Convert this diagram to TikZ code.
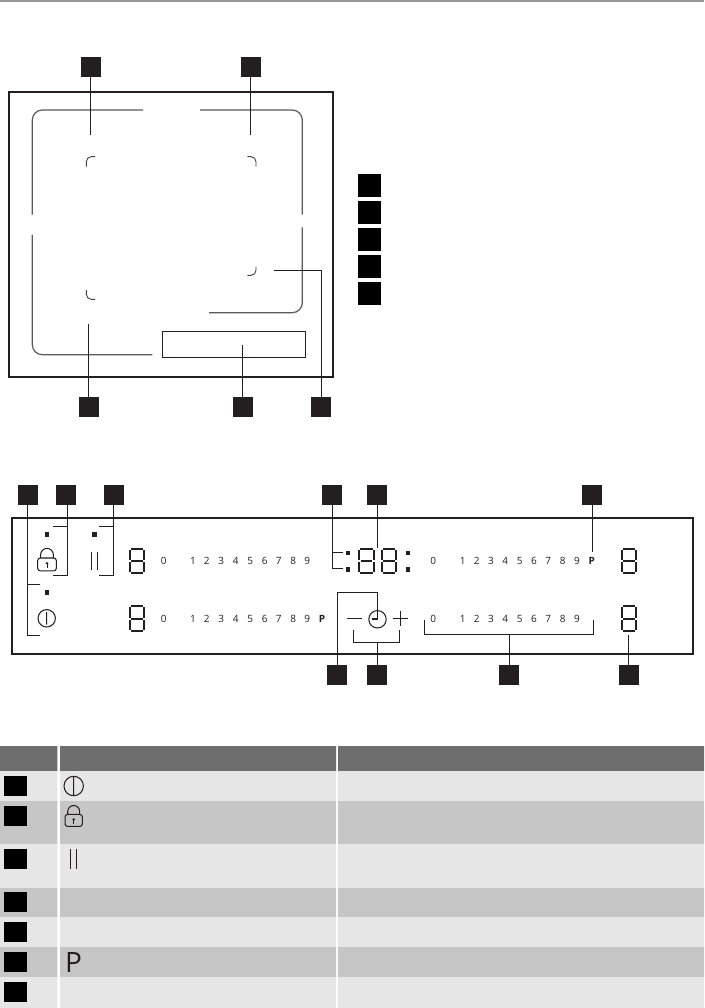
\documentclass[tikz,border=0pt]{standalone}
\usepackage{fontspec}
\setmainfont{Open Sans}
\definecolor{ink}{HTML}{231F20}
\definecolor{rowlight}{HTML}{E6E6E6}
\definecolor{rowdark}{HTML}{C6C6C6}
\definecolor{headgray}{HTML}{6E6E6E}
\definecolor{topgray}{HTML}{999999}
\definecolor{zonegray}{HTML}{5A5A5A}
\tikzset{
  badge/.style={rectangle,fill=ink,inner sep=0pt,minimum width=20pt,minimum height=20pt},
  legendbadge/.style={rectangle,fill=black,inner sep=0pt,minimum width=23pt,minimum height=23pt},
  tablebadge/.style={rectangle,fill=black,inner sep=0pt,minimum width=23pt,minimum height=20pt},
  frame/.style={draw=ink,line width=2.1pt},
  zone/.style={draw=zonegray,line width=1.2pt,rounded corners=10pt},
  corner/.style={draw=ink!85,line width=.9pt,rounded corners=5pt},
  conn/.style={draw=ink,line width=1pt},
  led/.style={rectangle,fill=ink,inner sep=0pt,minimum size=4.4pt},
  num/.style={inner sep=0pt,font=\fontsize{10}{12}\selectfont,text=ink},
  bnum/.style={inner sep=0pt,font=\fontsize{10}{12}\selectfont\bfseries,text=ink},
  icon/.style={draw=ink,line width=1.05pt},
  seg8/.pic={
    \draw[ink,line width=1.9pt]
      (2,1)--(14.3,1) (2.4,13.35)--(13.9,13.35) (2,25.7)--(14.3,25.7)
      (1,2)--(1,12.3) (15.3,2)--(15.3,12.3)
      (1,14.4)--(1,24.7) (15.3,14.4)--(15.3,24.7);
  },
  lockicon/.pic={
    \draw[icon,rounded corners=2.5pt] (-9.3,-6.4) rectangle (9.3,6.4);
    \draw[icon] (-6.4,-6.4) -- (-6.4,-9.6) arc[start angle=180,end angle=360,radius=6.4] -- (6.4,-6.4);
    \draw[ink,line width=1pt] (0,3.4) -- (0,-1);
    \fill[ink] (-1.6,-.4) -- (0,-2.6) -- (1.6,-.4) -- cycle;
  }
}
\begin{document}
\begin{tikzpicture}[x=1pt,y=-1pt]
\useasboundingbox (0,0) rectangle (704,1008);
\fill[white] (0,0) rectangle (704,1008);
\fill[topgray] (0,0) rectangle (704,2);

%% hob plan
\draw[frame] (9,92) rectangle (333,377);
\draw[zone] (143,110) -- (32.3,110) -- (32.3,214.7);
\draw[zone] (32.3,235) -- (32.3,354.7) -- (152.3,354.7);
\draw[zone] (200,110) -- (302.3,110) -- (302.3,214.7);
\draw[zone] (302.3,227.3) -- (302.3,312.7) -- (209,312.7);
\draw[corner] (95,156.7) -- (86.3,156.7) -- (86.3,166.7);
\draw[corner] (247.3,156.7) -- (256,156.7) -- (256,166.7);
\draw[corner] (256,266.7) -- (256,275.3) -- (247.3,275.3);
\draw[corner] (86.3,290) -- (86.3,299.3) -- (95,299.3);
\draw[draw=ink,line width=1pt] (162.3,331.7) rectangle (305.7,357.3);

\node[badge] (pa) at (91,66.7) {};
\node[badge] (pb) at (251,66.7) {};
\node[badge] (pc) at (89,407) {};
\node[badge] (pd) at (243,407) {};
\node[badge] (pe) at (321,407) {};
\coordinate (paend) at (90.5,135);
\coordinate (pbend) at (250.3,135);
\coordinate (pcend) at (88.3,324);
\coordinate (pdend) at (242.3,345);
\coordinate (peend) at (274.3,270);
\draw[conn] (pa.south -| paend) -- (paend);
\draw[conn] (pb.south -| pbend) -- (pbend);
\draw[conn] (pc.north -| pcend) -- (pcend);
\draw[conn] (pd.north -| pdend) -- (pdend);
\draw[conn] (pe.north) -- (pe.north |- peend) -- (peend);

%% legend
\node[legendbadge] (la) at (369.5,185.5) {};
\node[legendbadge] (lb) at (369.5,212.5) {};
\node[legendbadge] (lc) at (369.5,239.5) {};
\node[legendbadge] (ld) at (369.5,266.5) {};
\node[legendbadge] (le) at (369.5,293) {};

%% control panel
\draw[frame] (11.7,517.7) rectangle (693.3,654);
\node[badge] (ca) at (27.7,495) {};
\node[badge] (cb) at (66,495) {};
\node[badge] (cc) at (114,495) {};
\node[badge] (cd) at (332,495) {};
\node[badge] (ce) at (377,495) {};
\node[badge] (cf) at (592,495) {};
\node[badge] (cg) at (337,675) {};
\node[badge] (ch) at (377,675) {};
\node[badge] (ci) at (509,675) {};
\node[badge] (cj) at (629,675) {};

\node[led] (l1) at (47,534.3) {};
\node[led] (l2) at (94.3,534.3) {};
\node[led] (l3) at (47,592.3) {};
\node[led] (l4) at (348,552.7) {};
\node[led] (l5) at (348,569.3) {};
\node[led] (l6) at (407.7,552.7) {};
\node[led] (l7) at (407.7,569.3) {};

\coordinate (a1) at (40,584.7);
\coordinate (a2) at (40,635);
\coordinate (b1) at (53,526.3);
\coordinate (b2) at (53,575);
\coordinate (c1) at (99,526.3);
\coordinate (c2) at (99,575);
\coordinate (d1) at (343.3,552.3);
\coordinate (d2) at (343.3,568.7);
\coordinate (e1) at (377.3,547.7);
\coordinate (f1) at (592.3,551.7);
\coordinate (g1) at (377.5,605.7);
\coordinate (g0) at (377.5,592.3);
\coordinate (h1) at (377.3,642.3);
\coordinate (i1) at (509.3,634.3);
\coordinate (j1) at (628.3,635.3);
\draw[conn] ([xshift=-.7pt]ca.south) -- (27,635) -- (a2);
\draw[conn] (27,584.7) -- (a1);
\draw[conn] ([xshift=1.7pt]cb.south) -- (67.7,575) -- (b2);
\draw[conn] (67.7,526.3) -- (b1);
\draw[conn] ([xshift=-.3pt]cc.south) -- (113.7,575) -- (c2);
\draw[conn] (113.7,526.3) -- (c1);
\draw[conn] (cd.south) -- (332,568.7) -- (d2);
\draw[conn] (332,552.3) -- (d1);
\draw[conn] (ce.south -| e1) -- (e1);
\draw[conn] (cf.south -| f1) -- (f1);
\draw[conn] (cg.north) -- (cg.north |- g0) -- (g0) -- (g1);
\draw[conn] (ch.north -| h1) -- (h1);
\draw[conn] (353.3,630) -- (353.3,642.3) -- (399.3,642.3) -- (399.3,630);
\draw[conn] (ci.north -| i1) -- (i1);
\draw[conn] (424.3,620) -- (424.3,634.3) -- (593.7,634.3) -- (593.7,620);
\draw[conn] (cj.north -| j1) -- (j1);

%% icons on the panel
\pic at (47,564.4) {lockicon};
\draw[icon] (91.3,552) -- (91.3,570) (97.3,552) -- (97.3,570);
\draw[icon] (46.7,618.3) circle (8.7) (46.7,612) -- (46.7,624.6);
\draw[icon] (347.3,618.3) -- (362,618.3);
\draw[icon] (392.6,618.3) -- (408,618.3) (400.3,610.6) -- (400.3,626);
\draw[icon] (377.5,619.3) circle (8.7);
\draw[icon] (377.5,605.7) -- (377.5,619) -- (371.7,619);

%% seven segment digits
\pic at (129,547.7) {seg8};
\pic at (129,605.3) {seg8};
\pic at (358.3,547.7) {seg8};
\pic at (381,547.7) {seg8};
\pic at (621,547.7) {seg8};
\pic at (621,605.3) {seg8};

%% scale numbers
\foreach \n/\x in {0/163.7,1/193,2/206.7,3/221.3,4/235.7,5/250.3,6/264.7,7/278.7,8/293.3,9/307.3}{
  \node[num] (ua\n) at (\x,561.3) {\n};
  \node[num] (ub\n) at (\x,619) {\n};
}
\node[bnum] (upb) at (322,619) {P};
\foreach \n/\x in {0/433.3,1/462.7,2/476.7,3/491,4/505.3,5/519.7,6/534,7/548.3,8/562.7,9/577}{
  \node[num] (uc\n) at (\x,561.3) {\n};
  \node[num] (ud\n) at (\x,619) {\n};
}
\node[bnum] (upc) at (591.7,561.3) {P};

%% table
\fill[headgray] (0,746) rectangle (57.3,771) (60,746) rectangle (336,771) (338,746) rectangle (704,771);
\foreach \ya/\yb/\c in {771/801/rowlight,801/844/rowdark,844/888/rowlight,888/917/rowdark,917/947/rowlight,947/977/rowdark,977/1008/rowlight}{
  \fill[\c] (0,\ya) rectangle (57.3,\yb) (60,\ya) rectangle (336,\yb) (338,\ya) rectangle (704,\yb);
}
\node[tablebadge] (ta) at (15.5,786) {};
\node[tablebadge] (tb) at (15.5,816) {};
\node[tablebadge] (tc) at (15.5,859) {};
\node[tablebadge] (td) at (15.5,902) {};
\node[tablebadge] (te) at (15.5,932) {};
\node[tablebadge] (tf) at (15.5,962) {};
\node[tablebadge] (tg) at (15.5,992) {};
\draw[icon] (73.7,786) circle (9.7) (73.7,777) -- (73.7,795);
\pic at (73.7,820.4) [scale=.93] {lockicon};
\draw[icon] (70.3,849) -- (70.3,869) (76.7,849) -- (76.7,869);
\node[inner sep=0pt,text=ink,font=\fontsize{28}{30}\selectfont] (tp) at (73.5,962) {P};
\end{tikzpicture}
\end{document}
